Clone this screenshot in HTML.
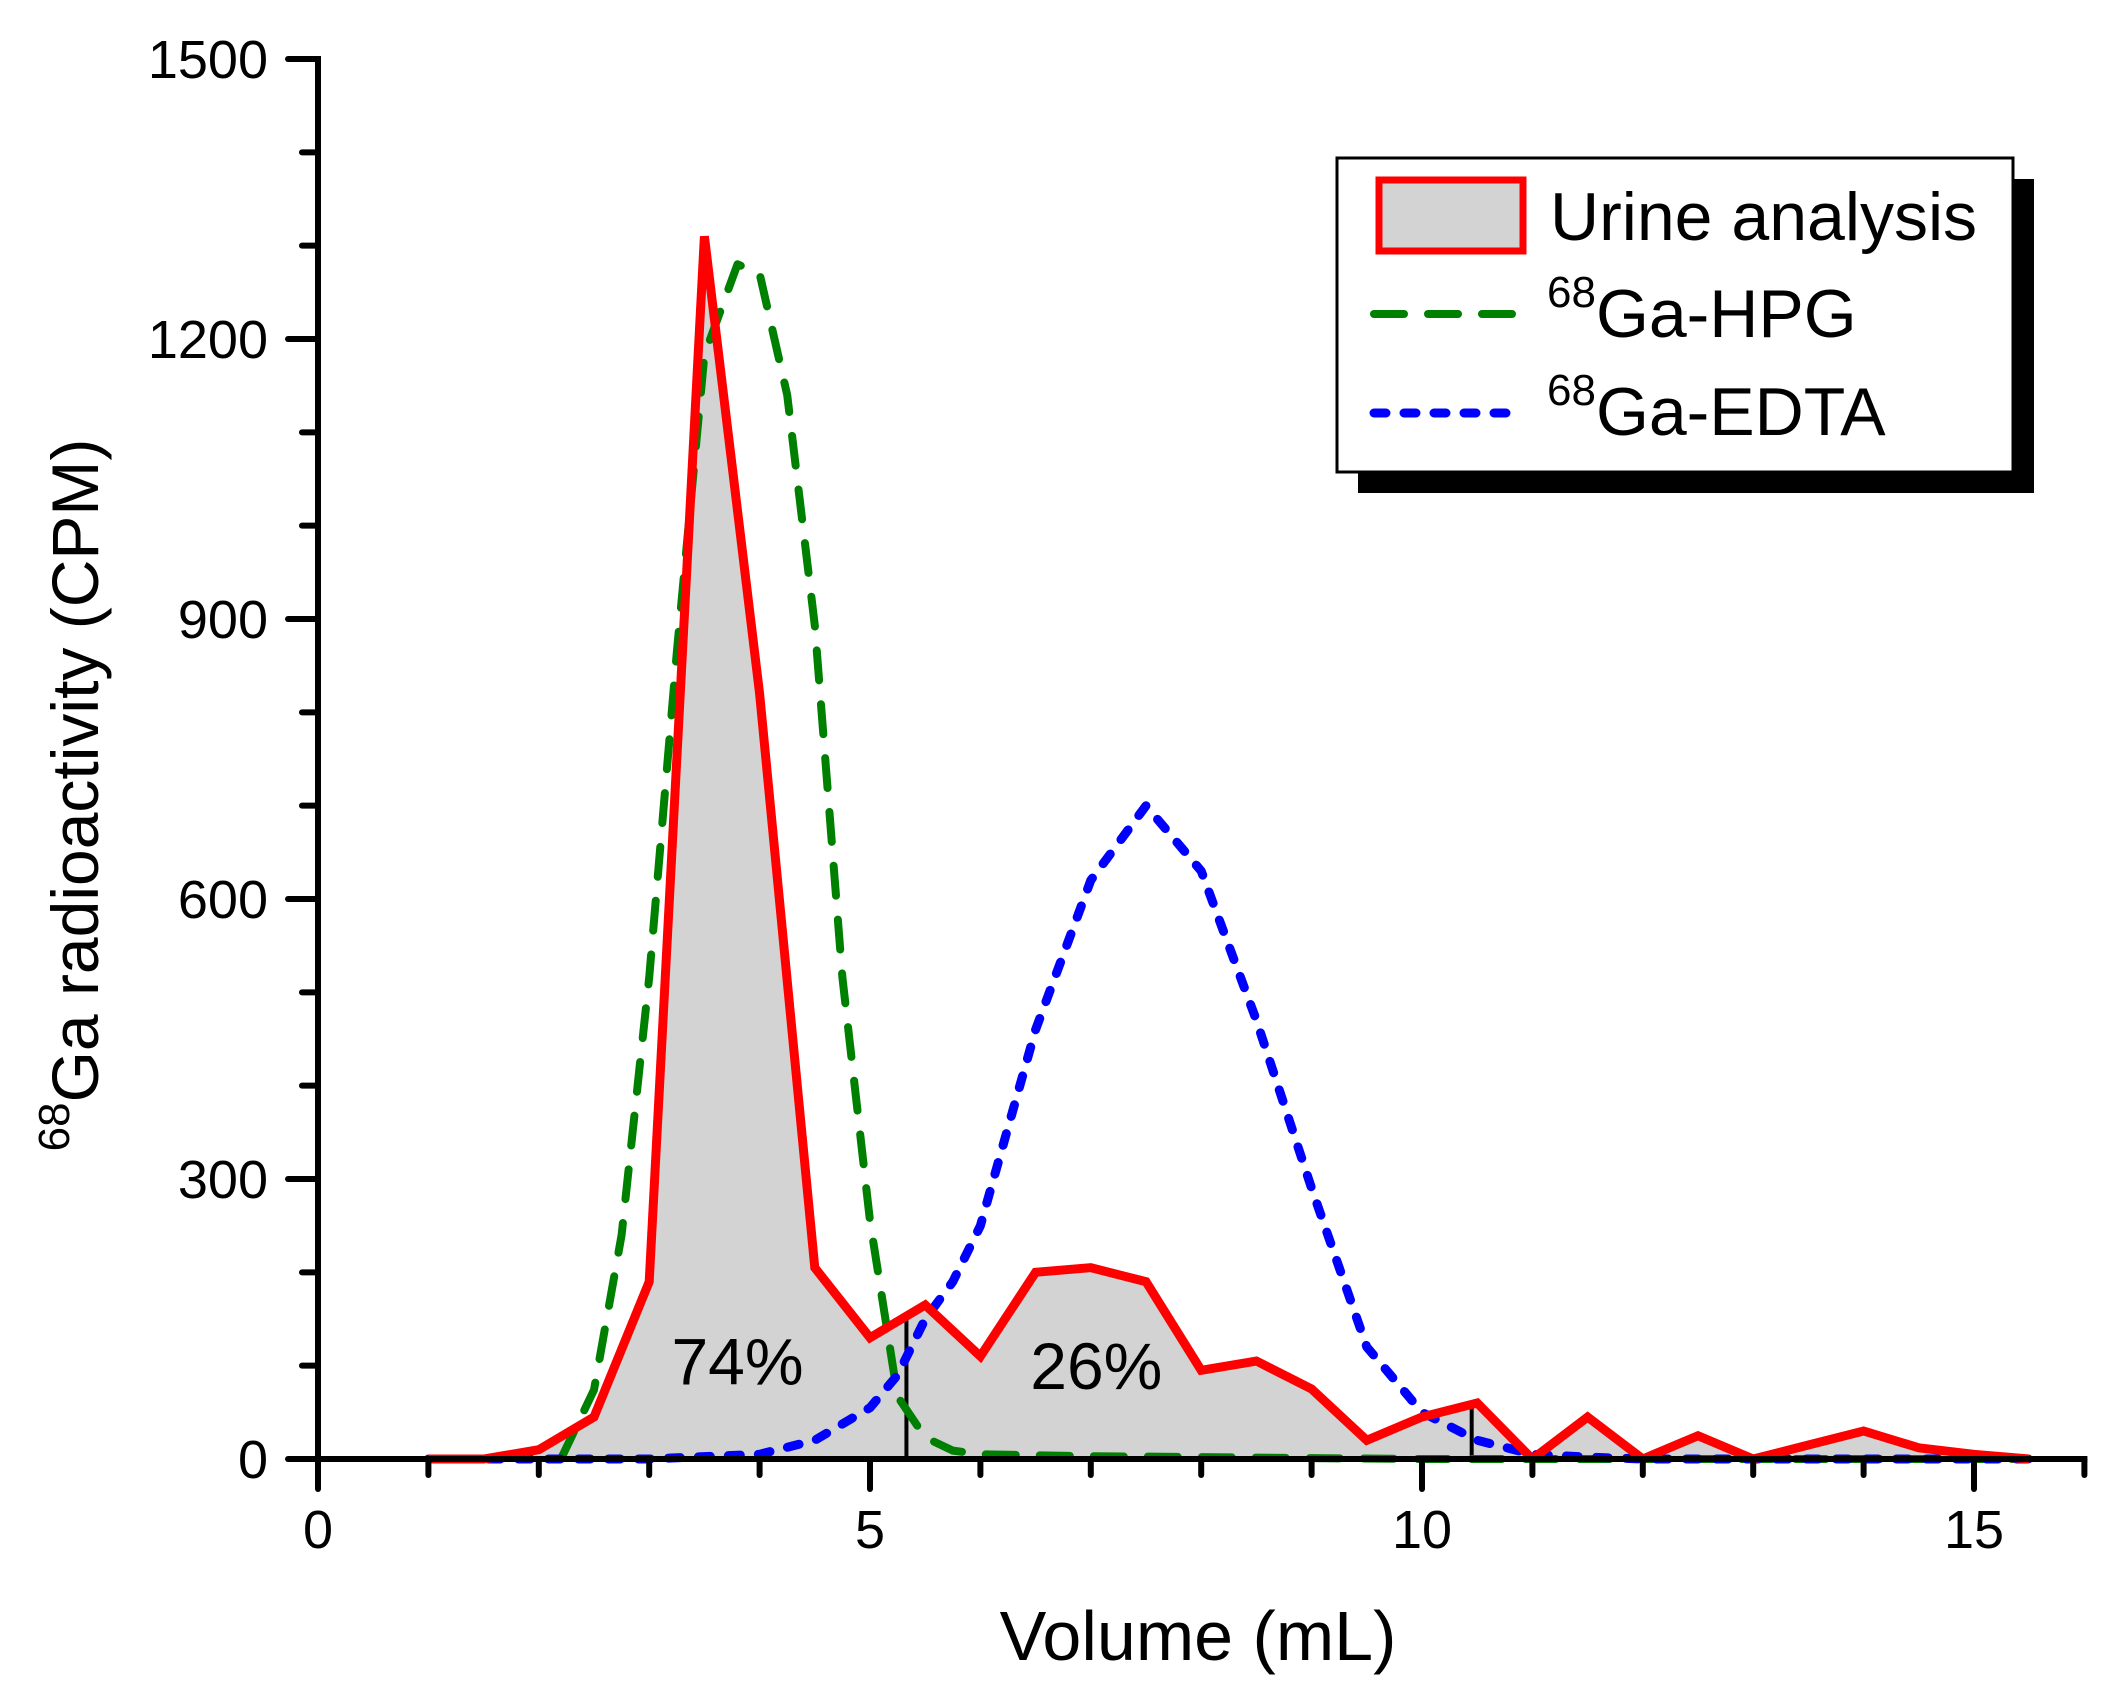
<!DOCTYPE html>
<html><head><meta charset="utf-8"><style>
html,body{margin:0;padding:0;background:#fff}
svg{display:block;font-family:"Liberation Sans",Arial,sans-serif}
</style></head><body>
<svg id="chart" width="2120" height="1693" viewBox="0 0 2120 1693" xmlns="http://www.w3.org/2000/svg">
<g id="plot"></g>
<g id="axes"></g>
<g id="legend">
  <rect x="1358" y="179" width="676" height="314" fill="#000"/>
  <rect x="1337" y="158" width="676" height="314" fill="#fff" stroke="#000" stroke-width="3"/>
  <rect x="1379" y="180" width="144" height="71" fill="#d3d3d3" stroke="#ff0000" stroke-width="7"/>
  <text x="1550" y="240" font-size="68">Urine analysis</text>
  <line x1="1374" y1="314" x2="1530" y2="314" stroke="#008000" stroke-width="8" stroke-dasharray="30,24" stroke-linecap="round"/>
  <text x="1547" y="337" font-size="68"><tspan font-size="44" dy="-30">68</tspan><tspan dy="30">Ga-HPG</tspan></text>
  <line x1="1374" y1="413" x2="1510" y2="413" stroke="#0000ff" stroke-width="9" stroke-dasharray="12,18" stroke-linecap="round"/>
  <text x="1547" y="435" font-size="68"><tspan font-size="44" dy="-30">68</tspan><tspan dy="30">Ga-EDTA</tspan></text>
</g>
<text x="1198" y="1660" font-size="70" text-anchor="middle">Volume (mL)</text>
<text transform="translate(98,795) rotate(-90)" font-size="66" text-anchor="middle"><tspan font-size="44" dy="-29">68</tspan><tspan dy="29">Ga radioactivity (CPM)</tspan></text>
</svg>
<script>
const urineX = [1,1.5,2,2.5,3,3.5,4,4.5,5,5.5,6,6.5,7,7.5,8,8.5,9,9.5,10,10.5,11,11.5,12,12.5,13,13.5,14,14.5,15,15.5];
const urineY = [0,0,10,45,190,1310,820,205,130,165,110,200,205,190,95,105,75,20,45,60,0,45,0,25,0,15,30,12,5,0];
const hpgX = [2.2,2.5,2.75,3,3.25,3.5,3.8,4,4.25,4.5,4.75,5,5.25,5.5,5.75,6,7,8,9,10,11,12,13,14,15,15.5];
const hpgY = [0,74,240,516,864,1183,1280,1270,1140,893,516,255,67,23,9,5,3,2,1,0,0,0,0,0,0,0];
const edtaX = [1,2,3,4,4.5,5,5.25,5.5,5.75,6,6.5,7,7.5,8,8.5,9,9.5,10,10.5,11,11.5,12,13,14,15,15.5];
const edtaY = [0,0,0,5,20,55,90,150,190,250,460,620,700,630,470,290,120,50,20,5,2,0,0,0,0,0];
const dividerX = [5.33,10.45];
const dividerY = [154,60];
const xTicks = [0,5,10,15];
const yTicks = [0,300,600,900,1200,1500];
const pctLabels = ["74%","26%"];
const pctX = [3.8,7.05];
const pctY = [80,75];

const NS="http://www.w3.org/2000/svg";
const X0=318, XS=110.4, Y0=1459, YS=1400/1500;
const sx=v=>X0+v*XS, sy=v=>Y0-v*YS;
function mk(tag,attrs,parent){const e=document.createElementNS(NS,tag);for(const k in attrs)e.setAttribute(k,attrs[k]);parent.appendChild(e);return e;}
const plot=document.getElementById('plot'), axes=document.getElementById('axes');
const pts=(xs,ys)=>xs.map((x,i)=>sx(x).toFixed(1)+','+sy(ys[i]).toFixed(1)).join(' ');

let fill=mk('polygon',{points:sx(urineX[0])+','+Y0+' '+pts(urineX,urineY)+' '+sx(urineX[urineX.length-1])+','+Y0,fill:'#d3d3d3'},plot);


dividerX.forEach((x,i)=>{
  const l=mk('line',{x1:sx(x),x2:sx(x),y1:Y0,y2:sy(dividerY[i]),stroke:'#000','stroke-width':4},plot);
  
  
});
pctLabels.forEach((t,i)=>{
  const e=mk('text',{x:sx(pctX[i]),y:sy(pctY[i]),'font-size':66,'text-anchor':'middle'},plot);
  e.textContent=t;
  
  
});
let g=mk('polyline',{points:pts(hpgX,hpgY),fill:'none',stroke:'#008000','stroke-width':8,'stroke-dasharray':'30,24','stroke-linecap':'round','stroke-linejoin':'round'},plot);


let b=mk('polyline',{points:pts(edtaX,edtaY),fill:'none',stroke:'#0000ff','stroke-width':9,'stroke-dasharray':'12,18','stroke-linecap':'round','stroke-linejoin':'round'},plot);


let r=mk('polyline',{points:pts(urineX,urineY),fill:'none',stroke:'#ff0000','stroke-width':9,'stroke-linejoin':'miter'},plot);



let ya=mk('line',{x1:X0,x2:X0,y1:sy(1500)-3,y2:Y0+30,stroke:'#000','stroke-width':6},axes);


let xa=mk('line',{x1:X0-30,x2:sx(16)+3,y1:Y0,y2:Y0,stroke:'#000','stroke-width':6},axes);


for(let v=0;v<=1500;v+=100){
  const major=v%300===0;
  const t=mk('line',{x1:X0-(major?30:16),x2:X0,y1:sy(v),y2:sy(v),stroke:'#000','stroke-width':6,'stroke-linecap':'round'},axes);
  
  
}
for(let v=0;v<=16;v+=1){
  const major=v%5===0;
  const t=mk('line',{x1:sx(v),x2:sx(v),y1:Y0,y2:Y0+(major?30:16),stroke:'#000','stroke-width':6,'stroke-linecap':'round'},axes);
  
  
}
yTicks.forEach(v=>{
  const e=mk('text',{x:268,y:sy(v)+19,'font-size':54,'text-anchor':'end'},axes);
  e.textContent=v;
  
  
});
xTicks.forEach(v=>{
  const e=mk('text',{x:sx(v),y:1548,'font-size':54,'text-anchor':'middle'},axes);
  e.textContent=v;
  
  
});
</script>
</body></html>
